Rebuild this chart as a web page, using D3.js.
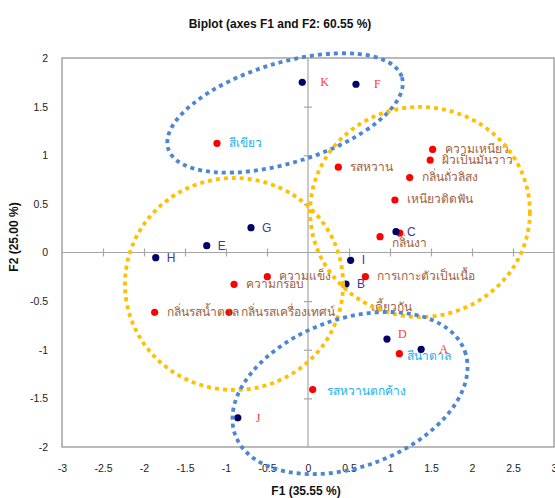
<!DOCTYPE html>
<html>
<head>
<meta charset="utf-8">
<script src="https://cdn.jsdelivr.net/npm/d3@7"></script>
<style>
  body { margin: 0; background: #fff; }
  svg { display: block; font-family: "Liberation Sans", "Noto Sans", sans-serif; }
</style>
</head>
<body>
<svg id="chart" width="555" height="498"></svg>
<script>
// ---- data ----
const xTicks = [-3, -2.5, -2, -1.5, -1, -0.5, 0, 0.5, 1, 1.5, 2, 2.5, 3];
const yTicks = [-2, -1.5, -1, -0.5, 0, 0.5, 1, 1.5, 2];

// observations (blue dots)
const obsNames = ["A", "B", "C", "D", "E", "F", "G", "H", "I", "J", "K"];
const obsF1    = [1.38, 0.463, 1.073, 0.963, -1.235, 0.585, -0.695, -1.857, 0.52, -0.856, -0.07];
const obsF2    = [-0.996, -0.324, 0.214, -0.89, 0.07, 1.73, 0.255, -0.053, -0.08, -1.70, 1.75];
const obsGroup = [1, 0, 0, 1, 0, 1, 0, 0, 0, 1, 1];

// variables (red dots)
const varNames = ["สีเขียว", "ความเหนียว", "ผิวเป็นมันวาว", "รสหวาน", "กลิ่นถั่วลิสง", "เหนียวติดฟัน",
                  "กลิ่นงา", "", "ความแข็ง", "ความกรอบ", "กลิ่นรสน้ำตาล", "กลิ่นรสเครื่องเทศน์",
                  "การเกาะตัวเป็นเนื้อ", "เคี้ยวกัน", "สีน้ำตาล", "รสหวานตกค้าง"];
const varF1    = [-1.11, 1.52, 1.49, 0.37, 1.24, 1.06, 0.878, 1.12, -0.496, -0.902, -1.87, -0.963,
                  0.70, 0.45, 1.114, 0.057];
const varF2    = [1.123, 1.06, 0.95, 0.877, 0.77, 0.54, 0.163, 0.20, -0.249, -0.327, -0.615, -0.615,
                  -0.249, -0.33, -1.04, -1.41];
const varGroup = [1, 0, 0, 0, 0, 0, 0, 0, 0, 0, 0, 0, 0, 0, 1, 1];

// hand-drawn grouping ellipses (centre in F1/F2 units, radii in axis units)
const groupCentersF1 = [-0.28, 1.366, -0.902, 0.512];
const groupCentersF2 = [1.435, 0.417, -0.324, -1.445];
const groupRadiiF1   = [1.49, 1.34, 1.33, 1.49];
const groupRadiiF2   = [0.514, 1.08, 1.09, 0.76];
const groupKind      = ["blue", "orange", "orange", "blue"];

// ---- layout ----
const svg = d3.select("#chart");
const x = d3.scaleLinear().domain([-3, 3]).range([62, 554]);
const y = d3.scaleLinear().domain([-2, 2]).range([447, 58]);

const groupAngle = [-17, 0, 0, -20];
const labelOffsets = { "": [0, 0], "กลิ่นงา": [12, 6], "เคี้ยวกัน": [26, 22], "สีน้ำตาล": [8, 2],
                       "รสหวานตกค้าง": [14, 1] };
const obsOffsets = { D: [11, -5] };

// title
svg.append("text").attr("x", 280).attr("y", 28).attr("text-anchor", "middle")
  .attr("font-weight", "bold").attr("font-size", 12).attr("fill", "#111")
  .text("Biplot (axes F1 and F2: 60.55 %)");

// frame
svg.append("rect").attr("x", x(-3)).attr("y", y(2))
  .attr("width", x(3) - x(-3)).attr("height", y(-2) - y(2))
  .attr("fill", "none").attr("stroke", "#8c8c8c").attr("stroke-width", 1.2);

// zero lines
svg.append("line").attr("x1", x(-3)).attr("x2", x(3)).attr("y1", y(0)).attr("y2", y(0))
  .attr("stroke", "#a6a6a6").attr("stroke-width", 1.2);
svg.append("line").attr("x1", x(0)).attr("x2", x(0)).attr("y1", y(2)).attr("y2", y(-2))
  .attr("stroke", "#a6a6a6").attr("stroke-width", 1.2);

// cross ticks on zero lines
const xt = svg.append("g").attr("transform", `translate(0,${y(0) - 4})`)
  .call(d3.axisBottom(x).tickValues(xTicks.filter(d => d > -3 && d < 3 && d !== 0)).tickSize(8).tickFormat(""));
xt.select(".domain").remove();
xt.selectAll("line").attr("stroke", "#a6a6a6").attr("stroke-width", 1.2);
const yt = svg.append("g").attr("transform", `translate(${x(0) - 4},0)`)
  .call(d3.axisRight(y).tickValues(yTicks.filter(d => d > -2 && d < 2 && d !== 0)).tickSize(8).tickFormat(""));
yt.select(".domain").remove();
yt.selectAll("line").attr("stroke", "#a6a6a6").attr("stroke-width", 1.2);

// tick labels
const xa = svg.append("g").attr("transform", `translate(0,${y(-2)})`)
  .call(d3.axisBottom(x).tickValues(xTicks).tickSize(0).tickPadding(18).tickFormat(d => String(d)));
xa.select(".domain").remove();
xa.selectAll("text").attr("font-size", 10.5).attr("font-family", "Liberation Sans, sans-serif").attr("fill", "#222");
const ya = svg.append("g").attr("transform", `translate(${x(-3)},0)`)
  .call(d3.axisLeft(y).tickValues(yTicks).tickSize(0).tickPadding(14).tickFormat(d => String(d)));
ya.select(".domain").remove();
ya.selectAll("text").attr("font-size", 10.5).attr("font-family", "Liberation Sans, sans-serif").attr("fill", "#222");

// axis titles
svg.append("text").attr("x", 306).attr("y", 495).attr("text-anchor", "middle")
  .attr("font-weight", "bold").attr("font-size", 12).attr("fill", "#111").text("F1 (35.55 %)");
svg.append("text").attr("transform", "translate(18,237) rotate(-90)").attr("text-anchor", "middle")
  .attr("font-weight", "bold").attr("font-size", 12).attr("fill", "#111").text("F2 (25.00 %)");

// variable points
const vars = varNames.map((n, i) => ({ name: n, f1: varF1[i], f2: varF2[i], g: varGroup[i] }));
svg.append("g").selectAll("circle").data(vars).join("circle")
  .attr("cx", d => x(d.f1)).attr("cy", d => y(d.f2)).attr("r", 3.6).attr("fill", "#ff0000");
svg.append("g").selectAll("text").data(vars).join("text")
  .attr("x", d => x(d.f1) + (labelOffsets[d.name] ? labelOffsets[d.name][0] : 12))
  .attr("y", d => y(d.f2) + (labelOffsets[d.name] ? labelOffsets[d.name][1] : -1))
  .attr("dominant-baseline", "central")
  .attr("font-size", 12).attr("font-family", "Noto Sans, sans-serif")
  .attr("fill", d => d.g ? "#1ab0ee" : "#a0603c")
  .text(d => d.name);

// observation points
const obs = obsNames.map((n, i) => ({ name: n, f1: obsF1[i], f2: obsF2[i], g: obsGroup[i] }));
svg.append("g").selectAll("circle").data(obs).join("circle")
  .attr("cx", d => x(d.f1)).attr("cy", d => y(d.f2)).attr("r", 3.6).attr("fill", "#000066");
svg.append("g").selectAll("text").data(obs).join("text")
  .attr("x", d => x(d.f1) + (obsOffsets[d.name] ? obsOffsets[d.name][0] : (d.g ? 18 : 11)))
  .attr("y", d => y(d.f2) + (obsOffsets[d.name] ? obsOffsets[d.name][1] : 0))
  .attr("dominant-baseline", "central")
  .attr("font-size", 12)
  .attr("font-family", d => d.g ? "Liberation Serif, serif" : "Liberation Sans, sans-serif")
  .attr("fill", d => d.g ? "#ff3b3b" : "#3a3a9a")
  .text(d => d.name);

// grouping ellipses
const groups = groupKind.map((k, i) => ({ k, cx: groupCentersF1[i], cy: groupCentersF2[i],
  rx: groupRadiiF1[i], ry: groupRadiiF2[i], a: groupAngle[i] }));
svg.append("g").selectAll("ellipse").data(groups).join("ellipse")
  .attr("transform", d => `translate(${x(d.cx)},${y(d.cy)}) rotate(${d.a})`)
  .attr("rx", d => x(d.rx) - x(0)).attr("ry", d => y(0) - y(d.ry))
  .attr("fill", "none")
  .attr("stroke", d => d.k === "blue" ? "#4f86d4" : "#ffc000")
  .attr("stroke-width", 3.8).attr("stroke-dasharray", "4 4");
</script>
</body>
</html>
